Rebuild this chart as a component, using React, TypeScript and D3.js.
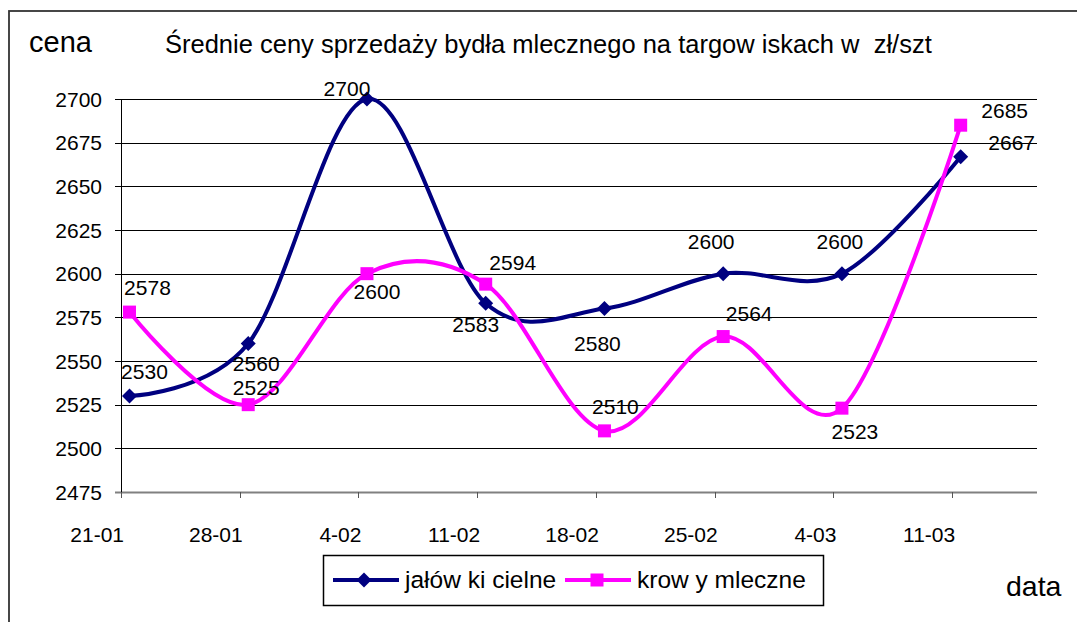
import * as d3 from "d3";

// dates on the x axis (year is not shown, 2007 is a non-leap year like the chart)
const dateLabels = ["21-01", "28-01", "4-02", "11-02", "18-02", "25-02", "4-03", "11-03"];
const axisEndLabel = "16-03";
const jalowki = [2530, 2560, 2700, 2583, 2580, 2600, 2600, 2667];
const krowy = [2578, 2525, 2600, 2594, 2510, 2564, 2523, 2685];
const yTicks = [2475, 2500, 2525, 2550, 2575, 2600, 2625, 2650, 2675, 2700];

// where each data label sits relative to its point (dx of centre, dy of baseline)
const jalowkiLabelOffset = [[15, -17], [8, 27], [-20, -3], [-10, 29], [-7, 42], [-12, -25], [-2, -25], [51, -7]];
const krowyLabelOffset = [[18, -17], [8, -10], [10, 25], [27, -14], [11, -17], [26, -16], [13, 31], [44, -7]];

const FONT = "'Liberation Sans', Arial, sans-serif";
const NAVY = "#000080";
const PINK = "#FF00FF";

const parseDate = d3.utcParse("%d-%m-%Y");
const toDate = (s: string) => parseDate(s + "-2007") as Date;

export default function App() {
  const width = 1077;
  const height = 622;
  const margin = { top: 99, right: 40, bottom: 130, left: 121 };

  const dates = dateLabels.map(toDate);
  const x = d3
    .scaleUtc()
    .domain([dates[0], toDate(axisEndLabel)])
    .range([margin.left, width - margin.right]);
  const y = d3
    .scaleLinear()
    .domain([2475, 2700])
    .range([height - margin.bottom, margin.top]);

  // Excel date axis puts each point in the middle of its day
  const px = (d: Date) => x(d3.utcHour.offset(d, 12));

  const line = d3
    .line<number>()
    .x((_, i) => px(dates[i]))
    .y((v) => y(v))
    .curve(d3.curveCardinal.tension(0));

  const diamond = (cx: number, cy: number, r = 7.5) =>
    `M${cx},${cy - r}L${cx + r},${cy}L${cx},${cy + r}L${cx - r},${cy}Z`;

  const x0 = x.range()[0];
  const x1 = x.range()[1];
  const yBottom = y(2475);

  return (
    <svg
      width={width}
      height={height}
      style={{ position: "fixed", left: 0, top: 0, background: "#fff", whiteSpace: "pre" }}
      fontFamily={FONT}
    >
      <rect x={0} y={0} width={width} height={height} fill="#fff" />
      {/* outer chart frame */}
      <rect x={9} y={11} width={1100} height={700} fill="none" stroke="#333" strokeWidth={1.8} />

      <text x={29} y={52} fontSize={29} fill="#000">cena</text>
      <text x={165} y={53} fontSize={25.5} fill="#000" xmlSpace="preserve">
        {"Średnie ceny sprzedaży bydła mlecznego na targow iskach w  zł/szt"}
      </text>
      <text x={1006} y={596} fontSize={28.5} fill="#000">data</text>

      {/* gridlines + y ticks */}
      {yTicks.map((t) => (
        <g key={t}>
          <line
            x1={x0 - 6}
            x2={x1}
            y1={Math.round(y(t)) + 0.5}
            y2={Math.round(y(t)) + 0.5}
            stroke={t === 2475 ? "#808080" : "#000"}
            strokeWidth={t === 2475 ? 2 : 1}
          />
          <text x={102} y={y(t) + 7.5} textAnchor="end" fontSize={21} fill="#000">
            {t}
          </text>
        </g>
      ))}

      {/* y axis */}
      <line x1={x0 + 0.5} x2={x0 + 0.5} y1={y(2700)} y2={yBottom + 6} stroke="#000" strokeWidth={1} />

      {/* x ticks */}
      {dates.map((d, i) => (
        <g key={dateLabels[i]}>
          <line
            x1={Math.round(x(d)) + 0.5}
            x2={Math.round(x(d)) + 0.5}
            y1={yBottom}
            y2={yBottom + 6}
            stroke="#555"
          />
          <text x={x(d) + 3} y={542} textAnchor="end" fontSize={21} fill="#000">
            {dateLabels[i]}
          </text>
        </g>
      ))}

      {/* series */}
      <path d={line(jalowki) ?? ""} fill="none" stroke={NAVY} strokeWidth={4} strokeLinejoin="round" />
      <path d={line(krowy) ?? ""} fill="none" stroke={PINK} strokeWidth={4} strokeLinejoin="round" />

      {jalowki.map((v, i) => (
        <path key={"jm" + i} d={diamond(px(dates[i]), y(v))} fill={NAVY} />
      ))}
      {krowy.map((v, i) => (
        <rect key={"km" + i} x={px(dates[i]) - 6.5} y={y(v) - 6.5} width={13} height={13} fill={PINK} />
      ))}

      {jalowki.map((v, i) => (
        <text
          key={"jl" + i}
          x={px(dates[i]) + jalowkiLabelOffset[i][0]}
          y={y(v) + jalowkiLabelOffset[i][1]}
          textAnchor="middle"
          fontSize={21}
          fill="#000"
        >
          {v}
        </text>
      ))}
      {krowy.map((v, i) => (
        <text
          key={"kl" + i}
          x={px(dates[i]) + krowyLabelOffset[i][0]}
          y={y(v) + krowyLabelOffset[i][1]}
          textAnchor="middle"
          fontSize={21}
          fill="#000"
        >
          {v}
        </text>
      ))}

      {/* legend */}
      <rect x={323.5} y={555.5} width={500} height={50} fill="#fff" stroke="#000" strokeWidth={1.5} />
      <line x1={333} x2={399} y1={580} y2={580} stroke={NAVY} strokeWidth={4} />
      <path d={diamond(364, 580)} fill={NAVY} />
      <text x={405} y={588} fontSize={24.5} fill="#000">jałów ki cielne</text>
      <line x1={565} x2={631} y1={580} y2={580} stroke={PINK} strokeWidth={4} />
      <rect x={590.5} y={573.5} width={13} height={13} fill={PINK} />
      <text x={637} y={588} fontSize={24.5} fill="#000">krow y mleczne</text>
    </svg>
  );
}
